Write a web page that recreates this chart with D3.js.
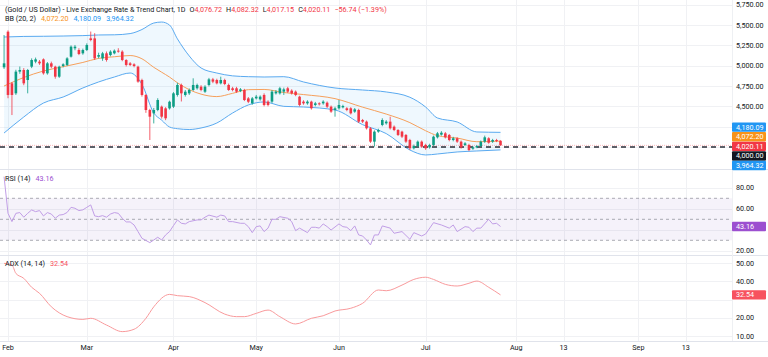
<!DOCTYPE html>
<html>
<head>
<meta charset="utf-8">
<script src="https://cdn.jsdelivr.net/npm/d3@7"></script>
<style>
  html, body { margin: 0; padding: 0; background: #fff; }
  svg { display: block; font-family: Roboto, "Liberation Sans", sans-serif; }
</style>
</head>
<body>
<svg id="chart" width="768" height="357"></svg>
<script>
// daily candles, Jan 30 -> Jul 28 (trading days)
var opens = [4980,5418,4783,4660,4927,4947,4824,4988,5050,5050,5078,4906,5029,4988,4865,4996,5009,5111,5214,5193,
  5152,5193,5336,5336,5111,5090,5152,5131,5152,5185,5173,5070,5029,5017,4988,4824,4640,4455,4414,4455,
  4496,4475,4475,4496,4640,4763,4640,4660,4701,4722,4742,4680,4763,4832,4824,4783,4824,4763,4722,4722,
  4689,4701,4598,4537,4598,4586,4640,4558,4558,4660,4660,4681,4722,4693,4681,4619,4558,4537,4558,4517,
  4537,4537,4545,4496,4455,4476,4488,4476,4476,4435,4455,4332,4312,4230,4066,4189,4271,4291,4312,4250,
  4209,4189,4148,4086,3984,4012,4066,4025,3996,4025,4119,4152,4168,4148,4086,4107,4066,4025,4025,3979,
  3996,4012,4066,4107,4066,4086,4076.72]
var highs = [5377,5435,4800,4950,4990,4970,4960,5090,5100,5070,5090,5045,5050,5000,5000,5030,5105,5250,5255,5215,
  5210,5275,5420,5400,5160,5170,5175,5190,5200,5215,5190,5080,5045,5030,5000,4840,4650,4470,4480,4600,
  4510,4490,4570,4675,4790,4780,4700,4720,4845,4780,4760,4760,4850,4850,4840,4865,4840,4780,4740,4740,
  4725,4715,4615,4615,4640,4635,4660,4575,4700,4700,4740,4730,4740,4710,4695,4630,4575,4575,4570,4555,
  4550,4575,4560,4510,4495,4578,4520,4490,4490,4480,4470,4345,4325,4245,4205,4225,4353,4330,4373,4265,
  4220,4200,4160,4100,4030,4080,4080,4040,4040,4140,4185,4195,4185,4160,4125,4120,4080,4060,4040,4010,
  4025,4080,4140,4120,4100,4100,4082.32]
var lows = [4960,4600,4393,4640,4900,4760,4660,4970,5030,5010,4890,4890,4970,4840,4850,4980,4995,5100,5190,5130,
  5135,5180,5300,5070,5090,5060,5050,5115,5140,5160,5055,4990,4995,4980,4790,4620,4420,4086,4290,4440,
  4350,4330,4460,4480,4620,4560,4620,4640,4690,4705,4685,4665,4745,4785,4770,4770,4760,4690,4685,4665,
  4675,4565,4540,4520,4585,4570,4500,4500,4540,4645,4645,4640,4665,4645,4625,4500,4520,4520,4460,4500,
  4510,4520,4480,4420,4373,4460,4475,4440,4400,4420,4295,4295,4215,4050,4004,4175,4255,4275,4215,4195,
  4135,4110,4050,3963,3970,3995,3990,3965,3980,4010,4105,4140,4105,4070,4070,4050,3980,4010,3950,3965,
  3985,4000,4050,4040,4050,4060,4017.15]
var closes = [5029,4640,4640,4927,4947,4783,4947,5070,5078,5029,4906,5029,4988,4865,4988,5017,5090,5234,5234,5144,
  5193,5255,5316,5090,5131,5152,5070,5173,5185,5173,5070,5009,5009,4996,4804,4640,4455,4373,4455,4578,
  4373,4353,4557,4660,4763,4660,4680,4701,4763,4763,4701,4742,4832,4804,4783,4824,4775,4701,4701,4680,
  4709,4578,4557,4598,4619,4619,4517,4517,4681,4681,4722,4709,4681,4660,4640,4517,4537,4558,4476,4537,
  4525,4558,4496,4435,4476,4517,4504,4455,4414,4463,4312,4312,4230,4066,4189,4209,4332,4312,4230,4209,
  4148,4127,4066,3984,4012,4066,4004,3984,4025,4127,4168,4176,4119,4086,4107,4066,3996,4045,3963,3996,
  4012,4066,4119,4053,4086,4074,4020.11]

// Bollinger bands (20, 2), read at sample bars
var bbBars   = [0,5,10,15,20,24,28,32,35,38,40,42,44,47,50,54,58,62,66,71,76,84,91,97,103,107,110,115,120,126]
var bbUpper  = [5353,5360,5362,5365,5370,5378,5380,5395,5445,5525,5537,5500,5330,5120,4972,4910,4875,4865,4861,4865,4800,4726,4701,4677,4612,4492,4357,4308,4185,4180.09]
var bbMiddle = [4750,4855,4935,4988,5040,5090,5110,5125,5085,4980,4920,4860,4790,4705,4650,4620,4660,4705,4708,4670,4645,4595,4490,4405,4300,4200,4140,4110,4065,4072.20]
var bbLower  = [4172,4369,4541,4615,4726,4800,4861,4910,4770,4418,4330,4246,4225,4215,4234,4295,4418,4517,4554,4500,4492,4455,4275,4165,3963,3902,3914,3939,3951,3964.32]

// RSI (14)
var rsiBars = [0,1,2,3,4,5,6,7,8,9,10,11,12,13,14,15,16,17,18,19,20,21,22,23,24,25,26,27,28,29,30,31,32,33,34,35,37,38,39,40,
  41,42,43,44,45,46,47,49,50,51,52,54,55,56,57,58,60,61,62,63,64,65,66,67,68,69,70,72,73,74,75,77,78,79,80,81,82,83,
  85,86,87,88,89,90,91,92,93,94,95,96,98,99,101,103,104,106,107,109,111,113,114,115,117,118,119,120,121,123,124,125,126]
var rsiValues = [90.6,55.7,47.8,55.7,56.4,52,55.7,58.9,57.3,58.3,53.2,56.4,55,51,54,54.5,56.5,61.4,60.5,58.3,59,61.4,63.7,53.2,52.5,53.5,52,55,56.4,55.7,51,47.5,47.5,44.6,38.3,31.9,27.8,30.3,32.9,30.3,
  35.1,38.3,44,49.4,46.2,45.6,47.8,49.4,49.4,52,54,52,54,53.2,47.8,47.8,46.2,46.2,43,37.3,43,43.7,38.3,41.6,50,50,52.5,51,47.8,39.2,41.6,37.3,42.4,42.4,41.6,45.6,43,39.8,
  45.6,43,42.4,39.2,43.7,35.1,34.1,30.3,25.6,35.1,35.1,43.7,41.6,36.7,38.3,31,37.3,34.1,36,46.8,44.6,41.6,44.6,38.3,43,42.4,38.3,41.6,41.6,50,45.6,46.2,43.16]

// ADX (14, 14)
var adxBars   = [0,2,3,5,7,9,12,16,20,22,26,30,33,36,38,42,44,47,51,56,59,61,64,67,70,74,78,81,84,88,91,95,97,101,104,107,109,112,115,118,120,123,126]
var adxValues = [49.8,48.9,44.3,41.6,36.7,33.4,26,20.6,19.1,19.7,16,12.4,13.7,19.7,26,32.8,32.1,31.6,28.3,22,20.6,20.6,22.4,24.2,20.6,16.6,19.7,21.1,23.7,25.2,27.9,35.2,34.8,37.9,41,42.2,41,38.3,37.4,38.9,40.1,36.7,32.54]

var priceTicks = [4500, 4750, 5000, 5250, 5500, 5750]
var rsiTicks = [20, 40, 60, 80]
var adxTicks = [10, 20, 30, 40, 50]
var timeTickDates = ['2026-02-02','2026-03-02','2026-04-01','2026-05-01','2026-06-01','2026-07-01','2026-08-01','2026-08-13','2026-09-01','2026-09-13']
var timeTickLabels = ['Feb','Mar','Apr','May','Jun','Jul','Aug','13','Sep','13']
var holidays = ['2026-04-03']
var supportLevel = 4000

var width = 768, height = 357, plotRight = 732
var fmt = d3.format(',.2f')
var svg = d3.select('#chart')

// trading days for the bars, calendar days for the empty space on the right
function buildTimeline() {
  var days = []
  var d = new Date(Date.UTC(2026, 0, 30))
  var end = new Date(Date.UTC(2026, 8, 25))
  var padFrom = new Date(Date.UTC(2026, 7, 1))
  while (d <= end) {
    var iso = d.toISOString().slice(0, 10)
    var wd = d.getUTCDay()
    if (d >= padFrom || (wd != 0 && wd != 6 && holidays.indexOf(iso) < 0)) days.push(iso)
    d.setUTCDate(d.getUTCDate() + 1)
  }
  return days
}
var timeline = buildTimeline()

var x = d3.scaleLinear().domain([0, 172]).range([4.06, 4.06 + 3.94 * 172])
var yPrice = d3.scaleLinear().domain([4000, 5000]).range([147, 65.7])
var yRsi = d3.scaleLinear().domain([30, 70]).range([240.3, 198.3])
var yAdx = d3.scaleLinear().domain([10, 50]).range([336, 263])

var panes = [[0, 169], [169, 255], [255, 341]]
panes.forEach(function(p, i) {
  var g = svg.append('clipPath').attr('id', 'clip' + i)
  g.append('rect').attr('x', 0).attr('y', p[0]).attr('width', plotRight).attr('height', p[1] - p[0])
})

// grid
var grid = svg.append('g').attr('stroke', '#f0f1f4').attr('stroke-width', 1)
timeTickDates.forEach(function(t) {
  var xx = Math.round(x(timeline.indexOf(t))) + 0.5
  grid.append('line').attr('x1', xx).attr('x2', xx).attr('y1', 0).attr('y2', 341)
})
function hGrid(ticks, scale, clip) {
  grid.selectAll(null).data(ticks).enter().append('line')
    .attr('clip-path', 'url(#' + clip + ')')
    .attr('x1', 0).attr('x2', plotRight)
    .attr('y1', function(d) { return Math.round(scale(d)) + 0.5 })
    .attr('y2', function(d) { return Math.round(scale(d)) + 0.5 })
}
hGrid(priceTicks.concat([4250, 4000]), yPrice, 'clip0')
hGrid(rsiTicks, yRsi, 'clip1')
hGrid(adxTicks, yAdx, 'clip2')

// pane separators
svg.append('g').attr('stroke', '#e0e3eb').selectAll('line').data([169, 255, 341]).enter().append('line')
  .attr('x1', 0).attr('x2', width).attr('y1', function(d) { return d + 0.5 }).attr('y2', function(d) { return d + 0.5 })
svg.append('line').attr('x1', plotRight + 0.5).attr('x2', plotRight + 0.5).attr('y1', 0).attr('y2', 341).attr('stroke', '#eef0f3')

// Bollinger bands
var main = svg.append('g').attr('clip-path', 'url(#clip0)')
var bbIdx = d3.range(bbBars.length)
main.append('path').datum(bbIdx)
  .attr('fill', '#2196f3').attr('fill-opacity', 0.07)
  .attr('d', d3.area().curve(d3.curveMonotoneX)
    .x(function(i) { return x(bbBars[i]) })
    .y0(function(i) { return yPrice(bbLower[i]) })
    .y1(function(i) { return yPrice(bbUpper[i]) }))
;[[bbUpper, '#5aaaf0'], [bbLower, '#5aaaf0'], [bbMiddle, '#f6a05c']].forEach(function(s) {
  main.append('path').datum(bbIdx).attr('fill', 'none').attr('stroke', s[1]).attr('stroke-width', 1)
    .attr('d', d3.line().curve(d3.curveMonotoneX)
      .x(function(i) { return x(bbBars[i]) })
      .y(function(i) { return yPrice(s[0][i]) }))
})

// support and last price lines
main.append('line').attr('x1', 0).attr('x2', plotRight)
  .attr('y1', yPrice(closes[closes.length - 1])).attr('y2', yPrice(closes[closes.length - 1]))
  .attr('stroke', '#f23645').attr('stroke-opacity', 0.35).attr('stroke-dasharray', '1,1')
main.append('line').attr('x1', 0).attr('x2', plotRight)
  .attr('y1', yPrice(supportLevel)).attr('y2', yPrice(supportLevel))
  .attr('stroke', '#2a2e39').attr('stroke-width', 1.5).attr('stroke-dasharray', '5,4')

// candles
var candles = main.append('g').selectAll('g').data(d3.range(closes.length)).enter().append('g')
  .attr('fill', function(i) { return closes[i] >= opens[i] ? '#0d9d84' : '#f23645' })
  .attr('stroke', function(i) { return closes[i] >= opens[i] ? '#0d9d84' : '#f23645' })
candles.append('line')
  .attr('x1', function(i) { return x(i) }).attr('x2', function(i) { return x(i) })
  .attr('y1', function(i) { return yPrice(highs[i]) }).attr('y2', function(i) { return yPrice(lows[i]) })
  .attr('stroke-width', 0.8)
candles.append('rect').attr('stroke', 'none')
  .attr('x', function(i) { return x(i) - 1.3 }).attr('width', 2.6)
  .attr('y', function(i) { return yPrice(Math.max(opens[i], closes[i])) })
  .attr('height', function(i) { return Math.max(0.8, Math.abs(yPrice(opens[i]) - yPrice(closes[i]))) })

// RSI pane
var rsiG = svg.append('g').attr('clip-path', 'url(#clip1)')
rsiG.append('rect').attr('x', 0).attr('width', plotRight)
  .attr('y', yRsi(70)).attr('height', yRsi(30) - yRsi(70)).attr('fill', '#7e57c2').attr('fill-opacity', 0.08)
rsiG.selectAll('.lvl').data([70, 50, 30]).enter().append('line').attr('class', 'lvl')
  .attr('x1', 0).attr('x2', plotRight)
  .attr('y1', function(d) { return yRsi(d) }).attr('y2', function(d) { return yRsi(d) })
  .attr('stroke', '#9598a1').attr('stroke-dasharray', '3,3').attr('stroke-width', 0.8)
rsiG.append('path').datum(d3.range(rsiBars.length)).attr('fill', 'none')
  .attr('stroke', '#c19ee6').attr('stroke-width', 1)
  .attr('d', d3.line().x(function(i) { return x(rsiBars[i]) }).y(function(i) { return yRsi(rsiValues[i]) }))

// ADX pane
var adxG = svg.append('g').attr('clip-path', 'url(#clip2)')
adxG.append('path').datum(d3.range(adxBars.length)).attr('fill', 'none')
  .attr('stroke', '#f99a9c').attr('stroke-width', 1)
  .attr('d', d3.line().curve(d3.curveMonotoneX).x(function(i) { return x(adxBars[i]) }).y(function(i) { return yAdx(adxValues[i]) }))

// coloured value tags, stacked around the last price
var lastC = closes[closes.length - 1]
var tags = [
  {v: bbUpper[bbUpper.length - 1], c: '#2196f3'},
  {v: bbMiddle[bbMiddle.length - 1], c: '#f7931a'},
  {v: lastC, c: '#f23645'},
  {v: supportLevel, c: '#131722'},
  {v: bbLower[bbLower.length - 1], c: '#2196f3'}
]
var anchor = 2, gap = 9.6
tags.forEach(function(t, i) { t.y = yPrice(lastC) + (i - anchor) * gap + 1 })
tags.push({v: rsiValues[rsiValues.length - 1], c: '#9c4fd0', y: yRsi(rsiValues[rsiValues.length - 1])})
tags.push({v: adxValues[adxValues.length - 1], c: '#f7525f', y: yAdx(adxValues[adxValues.length - 1])})

// right scale labels, the ones covered by a tag are hidden
var axisG = svg.append('g').attr('font-size', 7.2).attr('fill', '#131722')
function scaleLabels(ticks, scale, f) {
  var shown = ticks.filter(function(d) {
    return !tags.some(function(t) { return Math.abs(t.y - scale(d)) < 9 })
  })
  axisG.selectAll(null).data(shown).enter().append('text')
    .attr('x', 736).attr('y', function(d) { return scale(d) }).attr('dy', '0.35em')
    .text(function(d) { return f(d) })
}
scaleLabels(priceTicks, yPrice, fmt)
scaleLabels(rsiTicks, yRsi, fmt)
scaleLabels(adxTicks, yAdx, fmt)

var tagG = svg.append('g').selectAll('g').data(tags).enter().append('g')
tagG.append('rect').attr('x', 732).attr('width', 34).attr('height', 9.4).attr('rx', 1)
  .attr('y', function(d) { return d.y - 4.7 }).attr('fill', function(d) { return d.c })
tagG.append('text').attr('x', 736).attr('y', function(d) { return d.y }).attr('dy', '0.35em')
  .attr('font-size', 7.2).attr('fill', '#fff').text(function(d) { return fmt(d.v) })

// time axis
svg.append('g').attr('font-size', 7.2).attr('fill', '#131722').attr('text-anchor', 'middle')
  .selectAll('text').data(timeTickDates).enter().append('text')
  .attr('x', function(d) { return x(timeline.indexOf(d)) }).attr('y', 350)
  .text(function(d, i) { return timeTickLabels[i] })

// legends
function legend(y, parts) {
  var t = svg.append('text').attr('x', 5).attr('y', y).attr('font-size', 7.2)
  parts.forEach(function(p) {
    t.append('tspan').attr('dx', p[2] || 0).attr('fill', p[1]).text(p[0])
  })
}
var last = opens.length - 1
legend(11.5, [['(Gold / US Dollar) - Live Exchange Rate & Trend Chart, 1D', '#131722'],
  ['O', '#131722', 4], [fmt(opens[last]), '#f23645'],
  ['H', '#131722', 4], [fmt(highs[last]), '#f23645'],
  ['L', '#131722', 4], [fmt(lows[last]), '#f23645'],
  ['C', '#131722', 4], [fmt(closes[last]), '#f23645'],
  ['\u221256.74 (\u22121.39%)', '#f23645', 4]])
legend(20.5, [['BB (20, 2)', '#131722'], [fmt(bbMiddle[bbMiddle.length - 1]), '#f7931a', 5],
  [fmt(bbUpper[bbUpper.length - 1]), '#2196f3', 5], [fmt(bbLower[bbLower.length - 1]), '#2196f3', 5]])
legend(180.5, [['RSI (14)', '#131722'], [fmt(rsiValues[rsiValues.length - 1]), '#9c4fd0', 5]])
legend(266, [['ADX (14, 14)', '#131722'], [fmt(adxValues[adxValues.length - 1]), '#f7525f', 5]])
</script>
</body>
</html>
